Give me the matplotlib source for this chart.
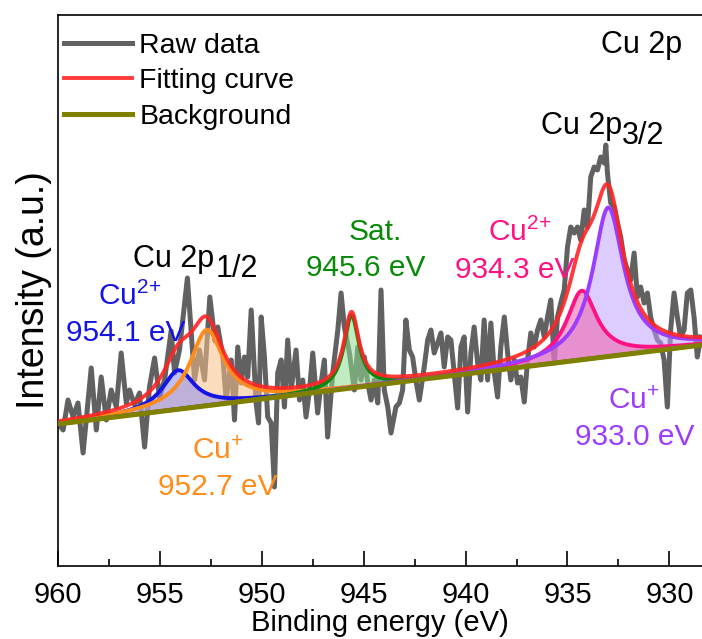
import numpy as np
import matplotlib
matplotlib.use("Agg")
import matplotlib.pyplot as plt

plt.rcParams['font.family'] = ['Liberation Sans', 'DejaVu Sans']
plt.rcParams['mathtext.fontset'] = 'custom'
plt.rcParams['mathtext.rm'] = 'Liberation Sans'
plt.rcParams['mathtext.default'] = 'regular'

# raw Cu 2p spectrum (binding energy in eV, intensity a.u.)
energy = [960.00, 959.75, 959.51, 959.26, 959.02, 958.77, 958.37, 958.12, 957.88, 957.63,
          957.39, 957.14, 956.90, 956.65, 956.49, 956.24, 956.00, 955.75, 955.51, 955.26,
          955.02, 954.77, 954.45, 954.28, 954.04, 953.65, 953.45, 953.30, 953.06, 952.81,
          952.55, 952.30, 952.16, 951.91, 951.75, 951.50, 951.34, 951.18, 951.01, 950.85,
          950.69, 950.52, 950.28, 950.16, 950.03, 949.87, 949.71, 949.54, 949.38, 949.22,
          949.05, 948.89, 948.73, 948.56, 948.32, 948.15, 947.99, 947.83, 947.66, 947.50,
          947.26, 947.09, 946.93, 946.77, 946.52, 946.27, 946.11, 945.95, 945.70, 945.46,
          945.29, 945.13, 944.97, 944.80, 944.64, 944.48, 944.31, 944.15, 943.99, 943.82,
          943.66, 943.42, 943.25, 943.09, 942.93, 942.76, 942.60, 942.44, 942.27, 942.03,
          941.86, 941.70, 941.54, 941.37, 941.21, 941.05, 940.88, 940.72, 940.56, 940.39,
          940.23, 940.07, 939.90, 939.74, 939.58, 939.41, 939.25, 939.09, 938.92, 938.76,
          938.59, 938.43, 938.27, 938.10, 937.94, 937.78, 937.61, 937.45, 937.29, 937.12,
          936.96, 936.80, 936.63, 936.47, 936.31, 936.14, 935.98, 935.82, 935.65, 935.49,
          935.33, 935.16, 935.00, 934.84, 934.67, 934.51, 934.35, 934.18, 934.02, 933.86,
          933.69, 933.53, 933.37, 933.20, 933.12, 933.04, 932.88, 932.71, 932.55, 932.39,
          932.22, 932.06, 931.90, 931.73, 931.57, 931.41, 931.24, 931.08, 930.92, 930.75,
          930.59, 930.43, 930.26, 930.10, 929.94, 929.77, 929.61, 929.45, 929.28, 929.12,
          928.95, 928.79, 928.63, 928.47]
intensity = [143, 136, 166, 149, 163, 113, 198, 136, 189, 146,
             176, 159, 213, 163, 176, 161, 173, 119, 179, 208,
             169, 186, 235, 193, 216, 288, 229, 186, 216, 186,
             269, 225, 239, 209, 166, 206, 146, 219, 183, 209,
             189, 256, 163, 143, 249, 209, 149, 143, 79, 193,
             206, 159, 226, 176, 216, 166, 186, 149, 176, 213,
             153, 183, 206, 129, 193, 236, 273, 239, 213, 176,
             219, 186, 209, 183, 166, 186, 163, 276, 176, 159,
             133, 159, 163, 176, 246, 216, 209, 186, 166, 199,
             226, 236, 213, 223, 233, 199, 229, 226, 193, 158,
             219, 229, 154, 213, 239, 203, 186, 246, 186, 243,
             193, 169, 219, 249, 213, 186, 206, 183, 189, 164,
             206, 233, 219, 236, 246, 229, 249, 266, 203, 249,
             263, 276, 319, 339, 333, 339, 326, 356, 339, 389,
             399, 396, 409, 403, 421, 393, 363, 359, 343, 329,
             306, 296, 286, 313, 269, 279, 263, 273, 249, 236,
             226, 223, 206, 159, 236, 273, 249, 229, 236, 273,
             276, 249, 209, 229]

# linear background end points
bg_energy = [960.0, 928.4]
bg_intensity = [142, 221]

# fitted components (Cu2+ 2p1/2, Cu+ 2p1/2, satellite, Cu2+ 2p3/2, Cu+ 2p3/2)
peak_center = [954.1, 952.7, 945.6, 934.3, 933.0]
peak_height = [39, 76, 73, 69, 149]
peak_fwhm = [1.9, 2.0, 0.9, 1.8, 1.85]
line_colors = ['#1414e6', '#ff8c1a', '#078a07', '#ff1284', '#9b3cff']
fill_colors = ['#8c8cee', '#fbc08a', '#8fdc8f', '#ee5fa8', '#c2a2ff']
fill_order = [2.3, 2.0, 2.0, 2.3, 2.0]


def lorentz(x, c, h, w):
    return h / (1 + ((x - c) / (w / 2)) ** 2)


W, H = 702, 639
fig = plt.figure(figsize=(W / 100, H / 100), dpi=100)
ax = fig.add_axes([58 / W, 1 - 566 / H, 1 - 58 / W, (566 - 15) / H])

e = np.linspace(960, 928.4, 1200)
base = np.interp(e, bg_energy[::-1], bg_intensity[::-1])

ax.plot(energy, intensity, color='#616161', lw=3.6, label='Raw data', zorder=1)

total = base.copy()
for c, h, w, lc, fc, z in zip(peak_center, peak_height, peak_fwhm, line_colors,
                              fill_colors, fill_order):
    comp = lorentz(e, c, h, w)
    total += comp
    ax.fill_between(e, base, base + comp, color=fc, alpha=0.55, lw=0, zorder=z)
    ax.plot(e, base + comp, color=lc, lw=2.8, zorder=3)

ax.plot(e, total, color='#ff2424', lw=2.8, alpha=0.9, label='Fitting curve', zorder=4)
ax.plot(bg_energy, bg_intensity, color='#808000', lw=3.6, label='Background', zorder=5)

ax.set_xlim(960, 928.4)
ax.set_ylim(0, 551)
ax.set_xticks([960, 955, 950, 945, 940, 935, 930])
ax.set_xticks(np.arange(957.5, 928, -5), minor=True)
ax.set_yticks([])
ax.spines['right'].set_visible(False)
for s in ['left', 'bottom', 'top']:
    ax.spines[s].set_linewidth(1.2)
ax.tick_params(axis='x', which='major', direction='in', length=11, width=1.2,
               labelsize=21, pad=10.5)
ax.tick_params(axis='x', which='minor', direction='in', length=5, width=1.2)
ax.set_xlabel('Binding energy (eV)', fontsize=21, labelpad=0)
ax.set_ylabel('Intensity (a.u.)', fontsize=27, labelpad=4)

ax.legend(loc='upper left', bbox_to_anchor=(6 / 644, 1 - 18 / 551), frameon=False,
          fontsize=20.5, handlelength=2.4, handletextpad=0.25, labelspacing=0.33,
          borderpad=0, borderaxespad=0)


def put(px, py, s, color='black', size=21.5):
    fig.text(px / W, 1 - py / H, s, color=color, fontsize=size, ha='left', va='baseline')


put(601, 53, 'Cu 2p', size=22)
put(541, 134, 'Cu 2p', size=22)
put(622, 144, '3/2', size=22)
put(133, 267, 'Cu 2p', size=22)
put(216, 277, '1/2', size=22)

put(98, 305, 'Cu$^{2{+}}$', line_colors[0])
put(66, 341, '954.1 eV', line_colors[0])
put(192, 459, 'Cu$^{+}$', line_colors[1])
put(158, 495, '952.7 eV', line_colors[1])
put(349, 240, 'Sat.', line_colors[2])
put(306, 276, '945.6 eV', line_colors[2])
put(488, 241, 'Cu$^{2{+}}$', line_colors[3])
put(455, 278, '934.3 eV', line_colors[3])
put(608, 409, 'Cu$^{+}$', line_colors[4])
put(575, 445, '933.0 eV', line_colors[4])

fig.savefig('out.png', dpi=100)
